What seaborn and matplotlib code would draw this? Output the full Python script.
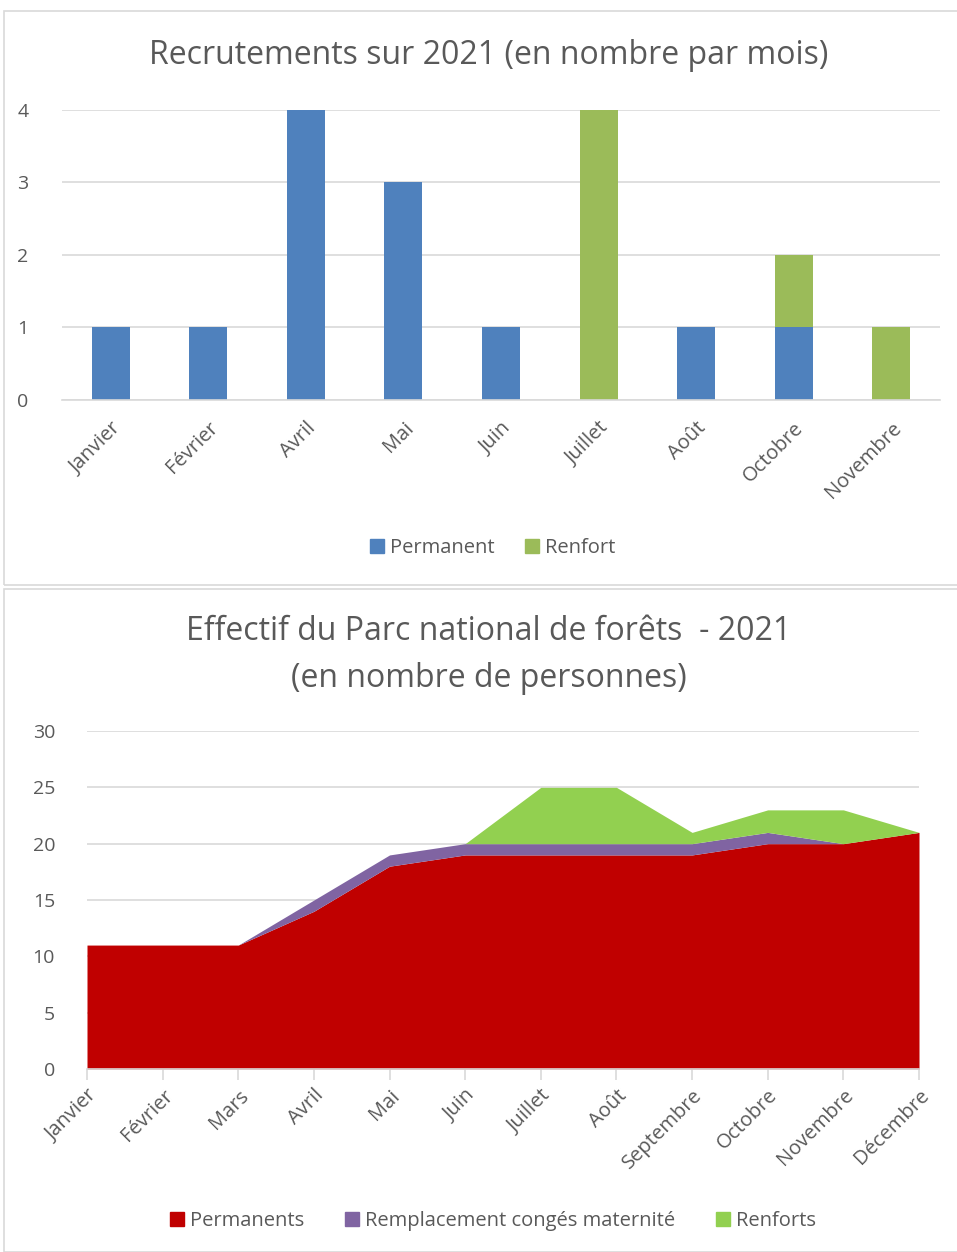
import matplotlib
matplotlib.use("Agg")
import matplotlib.pyplot as plt
from matplotlib.patches import Patch, Rectangle
import seaborn as sns
import pandas as pd

# --- data: recrutements ---
rec_months = ["Janvier", "Février", "Avril", "Mai", "Juin", "Juillet", "Août", "Octobre", "Novembre"]
rec_permanent = [1, 1, 4, 3, 1, 0, 1, 1, 0]
rec_renfort = [0, 0, 0, 0, 0, 4, 0, 1, 1]

# --- data: effectif ---
eff_months = ["Janvier", "Février", "Mars", "Avril", "Mai", "Juin", "Juillet", "Août",
              "Septembre", "Octobre", "Novembre", "Décembre"]
eff_permanents = [11, 11, 11, 14, 18, 19, 19, 19, 19, 20, 20, 21]
eff_remplacement = [0, 0, 0, 1, 1, 1, 1, 1, 1, 1, 0, 0]
eff_renforts = [0, 0, 0, 0, 0, 0, 5, 5, 1, 2, 3, 0]

C_BLUE, C_GREEN = "#4f81bd", "#9bbb59"
C_RED, C_PURPLE, C_LGREEN = "#c00000", "#8064a2", "#92d050"
TXT = "#595959"
GRID = "#d9d9d9"

sns.set_theme(style="white")
plt.rcParams["font.family"] = ["Open Sans", "DejaVu Sans"]

fig = plt.figure(figsize=(9.57, 12.52), dpi=100)

# panel borders
for y0, h in [(1 - 585 / 1252, (585 - 11) / 1252), (0.0, (1252 - 589) / 1252)]:
    fig.add_artist(Rectangle((4 / 957, y0), 1.2, h, transform=fig.transFigure,
                             fill=False, edgecolor=GRID, lw=1.2))

# ---------- top chart ----------
ax1 = fig.add_axes([62 / 957, 1 - 400 / 1252, (940 - 62) / 957, (400 - 110) / 1252])
df1 = pd.DataFrame({"mois": rec_months, "Permanent": rec_permanent, "Renfort": rec_renfort})
df1["total"] = df1["Permanent"] + df1["Renfort"]
sns.barplot(data=df1, x="mois", y="total", color=C_GREEN, width=0.39, saturation=1,
            linewidth=0, ax=ax1)
sns.barplot(data=df1, x="mois", y="Permanent", color=C_BLUE, width=0.39, saturation=1,
            linewidth=0, ax=ax1)
ax1.set_ylim(0, 4)
ax1.set_xlim(-0.5, len(rec_months) - 0.5)
ax1.set_yticks(range(0, 5))
ax1.yaxis.grid(True, color=GRID, lw=1.2)
ax1.set_axisbelow(True)
for s in ["top", "right", "left"]:
    ax1.spines[s].set_visible(False)
ax1.spines["bottom"].set_color(GRID)
ax1.spines["bottom"].set_linewidth(1.2)
ax1.set_xlabel("")
ax1.set_ylabel("")
ax1.tick_params(axis="y", length=0, pad=24, labelsize=14, labelcolor=TXT)
ax1.tick_params(axis="x", length=0, pad=13, labelsize=14.5, labelcolor=TXT)
plt.setp(ax1.get_xticklabels(), rotation=45, ha="right", rotation_mode="anchor")
fig.text(489 / 957, 1 - 56 / 1252, "Recrutements sur 2021 (en nombre par mois)",
         ha="center", va="center", fontsize=23, color=TXT)
fig.legend(handles=[Patch(color=C_BLUE, label="Permanent"), Patch(color=C_GREEN, label="Renfort")],
           loc="center", bbox_to_anchor=(493 / 957, 1 - 548 / 1252), ncol=2, frameon=False,
           fontsize=14.5, labelcolor=TXT, handlelength=0.7, handleheight=0.7,
           handletextpad=0.3, columnspacing=1.5)

# ---------- bottom chart ----------
ax2 = fig.add_axes([87 / 957, 1 - 1069 / 1252, (919 - 87) / 957, (1069 - 731) / 1252])
x = list(range(len(eff_months)))
ax2.stackplot(x, eff_permanents, eff_remplacement, eff_renforts,
              colors=[C_RED, C_PURPLE, C_LGREEN], lw=0)
ax2.set_xlim(0, len(eff_months) - 1)
ax2.set_ylim(0, 30)
ax2.set_yticks(range(0, 31, 5))
ax2.set_xticks(x)
ax2.set_xticklabels(eff_months)
ax2.yaxis.grid(True, color=GRID, lw=1.2)
ax2.set_axisbelow(True)
for s in ["top", "right", "left"]:
    ax2.spines[s].set_visible(False)
ax2.spines["bottom"].set_color(GRID)
ax2.spines["bottom"].set_linewidth(1.2)
ax2.tick_params(axis="y", length=0, pad=23, labelsize=14, labelcolor=TXT)
ax2.tick_params(axis="x", bottom=True, length=8, width=1.2, color=GRID, pad=4,
                labelsize=14.5, labelcolor=TXT)
plt.setp(ax2.get_xticklabels(), rotation=45, ha="right", rotation_mode="anchor")
fig.text(489 / 957, 1 - 655 / 1252, "Effectif du Parc national de forêts  - 2021\n(en nombre de personnes)",
         ha="center", va="center", fontsize=23, color=TXT, linespacing=1.55)
fig.legend(handles=[Patch(color=C_RED, label="Permanents"),
                    Patch(color=C_PURPLE, label="Remplacement congés maternité"),
                    Patch(color=C_LGREEN, label="Renforts")],
           loc="center", bbox_to_anchor=(493 / 957, 1 - 1221 / 1252), ncol=3, frameon=False,
           fontsize=14.5, labelcolor=TXT, handlelength=0.7, handleheight=0.7,
           handletextpad=0.3, columnspacing=2.0)

fig.savefig("out.png", dpi=100)
